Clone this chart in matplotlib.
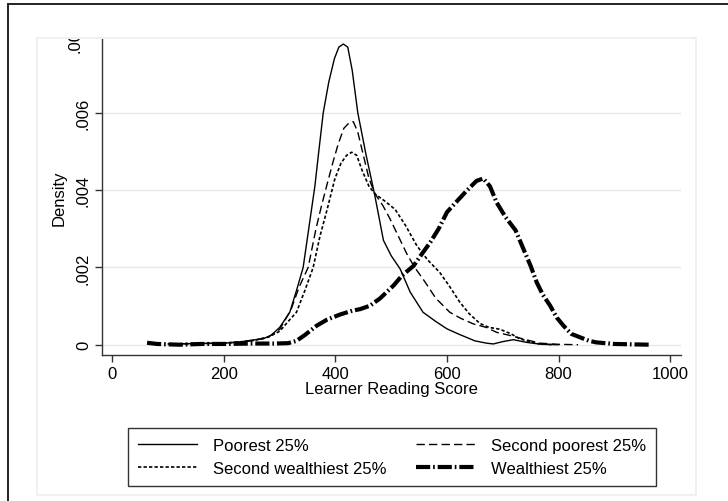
import matplotlib
matplotlib.use("Agg")
import matplotlib.pyplot as plt
from matplotlib.patches import Rectangle
from matplotlib.transforms import Bbox

# scores / densities (kernel density curves)
poor_x = [100, 150, 200, 230, 250, 270, 285, 300, 318, 330, 342, 352, 363, 370, 378, 388, 398, 406,
          414, 422, 430, 440, 455, 470, 486, 500, 516, 534, 557, 580, 600, 620, 635, 650, 671, 683,
          700, 719, 743, 770, 800]
poor_y = [0.00002, 0.00003, 0.00004, 0.00007, 0.00012, 0.00015, 0.00025, 0.00045, 0.00084, 0.0014,
          0.0020, 0.0030, 0.0041, 0.0050, 0.0060, 0.0068, 0.0074, 0.0077, 0.00778, 0.0077, 0.0071,
          0.0060, 0.0049, 0.0039, 0.0027, 0.0023, 0.00196, 0.00136, 0.00084, 0.0006, 0.00041,
          0.00028, 0.00019, 0.0001, 0.00004, 0.00002, 0.00008, 0.00013, 0.00006, 0.00001, 0.0]

second_poor_x = [100, 200, 250, 280, 300, 320, 335, 351, 365, 375, 384, 395, 405, 415, 425, 432, 440,
                 450, 460, 471, 485, 498, 513, 528, 542, 557, 580, 605, 625, 647, 670, 689, 710, 731,
                 750, 767, 800, 835]
second_poor_y = [0.00002, 0.00004, 0.0001, 0.0002, 0.0004, 0.0009, 0.0015, 0.0020, 0.0030, 0.0036,
                 0.0041, 0.0047, 0.0052, 0.0056, 0.00575, 0.00577, 0.0055, 0.0049, 0.0043, 0.0039,
                 0.0036, 0.00325, 0.0028, 0.00235, 0.0020, 0.0017, 0.0012, 0.00084, 0.00068,
                 0.00054, 0.00045, 0.00032, 0.00025, 0.00017, 0.0001, 0.00004, 0.00001, 0.0]

second_rich_x = [100, 200, 250, 280, 300, 315, 330, 345, 360, 372, 385, 399, 410, 420, 429, 438, 448,
                 460, 471, 490, 507, 525, 546, 565, 587, 605, 623, 640, 659, 675, 695, 715, 731, 760,
                 790]
second_rich_y = [0.00002, 0.00004, 0.0001, 0.0002, 0.00035, 0.0006, 0.00084, 0.0014, 0.0020, 0.0028,
                 0.0035, 0.0043, 0.0047, 0.0049, 0.00498, 0.0049, 0.0045, 0.0041, 0.0039, 0.0037,
                 0.0035, 0.0031, 0.00256, 0.0022, 0.00187, 0.0015, 0.0011, 0.0008, 0.00055, 0.00045,
                 0.0004, 0.00028, 0.00015, 0.00003, 0.0]

rich_x = [62, 80, 120, 160, 200, 250, 290, 315, 330, 345, 366, 385, 408, 430, 444, 462, 480, 504, 520,
          540, 555, 570, 585, 600, 617, 635, 653, 665, 677, 689, 705, 723, 737, 750, 761, 772, 785,
          797, 809, 823, 839, 855, 868, 900, 930, 965]
rich_y = [0.00005, 0.00002, 0.0, 0.00002, 0.00002, 0.00003, 0.00003, 0.00004, 0.0001, 0.00025,
          0.00049, 0.00065, 0.00078, 0.00088, 0.00092, 0.00101, 0.0012, 0.00153, 0.0018, 0.00204,
          0.00235, 0.00265, 0.0030, 0.00343, 0.0037, 0.00398, 0.00424, 0.0043, 0.0041, 0.00368,
          0.0033, 0.00296, 0.00248, 0.00204, 0.00161, 0.00129, 0.00101, 0.0007, 0.00049, 0.00028,
          0.00019, 0.0001, 0.00006, 0.00002, 0.00001, 0.0]

series_labels = ["Poorest 25%", "Second poorest 25%", "Second wealthiest 25%", "Wealthiest 25%"]
x_ticks = [0, 200, 400, 600, 800, 1000]
y_ticks = [0, 0.002, 0.004, 0.006]
y_tick_labels = ["0", ".002", ".004", ".006"]

plt.rcParams['font.family'] = ['Liberation Sans', 'DejaVu Sans']
FS = 12

W, H = 728, 502
fig = plt.figure(figsize=(W / 100, H / 100), dpi=100)

# outer frame and the faint graph region (Stata style)
fig.add_artist(Rectangle((8 / W, -0.2), 2.0, (H - 5) / H + 0.2, transform=fig.transFigure,
                         fill=False, ec='#222222', lw=1.4))
fig.add_artist(Rectangle((37 / W, (H - 496) / H), (696 - 37) / W, (496 - 39) / H,
                         transform=fig.transFigure, fill=False, ec='#eeeeee', lw=1.2))

ax = fig.add_axes([102 / W, (H - 356) / H, (681 - 102) / W, (356 - 40) / H])

lines = []
lines += ax.plot(poor_x, poor_y, color='black', lw=1.0, ls='-')
lines += ax.plot(second_poor_x, second_poor_y, color='black', lw=1.0, ls=(0, (6, 3)))
lines += ax.plot(second_rich_x, second_rich_y, color='black', lw=1.2, ls=(0, (2, 1.3)))
lines += ax.plot(rich_x, rich_y, color='black', lw=3.0, ls=(0, (3.4, 0.7, 0.4, 0.7)),
                 dash_capstyle='butt')

ax.set_xlim(-18.8, 1019.7)
ax.set_ylim(-0.000266, 0.00791)
ax.set_xticks(x_ticks)
ax.set_xticklabels([str(t) for t in x_ticks], fontsize=FS)
ax.set_yticks(y_ticks)
ax.set_yticklabels(y_tick_labels, fontsize=FS, rotation=90, va='center')
ax.tick_params(direction='out', length=5, width=1, color='#333333', pad=3)
ax.grid(axis='y', color='#e8e8e8', lw=1)
ax.set_axisbelow(True)
for s in ['top', 'right']:
    ax.spines[s].set_visible(False)
for s in ['left', 'bottom']:
    ax.spines[s].set_color('#333333')
    ax.spines[s].set_linewidth(1)

# the top tick label .008 is cut off by the plot region in the original
top_lbl = ax.text(-0.033, 0.008, ".008", transform=ax.get_yaxis_transform(), rotation=90,
                  ha='right', va='center', fontsize=FS)
top_lbl.set_clip_box(Bbox.from_extents(0, 0, W, H - 40))
top_lbl.set_clip_on(True)

ax.set_xlabel("Learner Reading Score", fontsize=FS, labelpad=0)
ax.set_ylabel("Density", fontsize=FS, labelpad=7)

# legend is filled row by row in the original
order = [0, 2, 1, 3]
leg = fig.legend([lines[i] for i in order], [series_labels[i] for i in order], loc='center',
                 bbox_to_anchor=(392 / W, (H - 458) / H), ncol=2, fontsize=FS, frameon=True,
                 fancybox=False, handlelength=3.55, handletextpad=0.95, columnspacing=1.75,
                 labelspacing=0.5, borderpad=0.6, borderaxespad=0)
leg.get_frame().set_edgecolor('black')
leg.get_frame().set_linewidth(1.0)

fig.savefig("out.png", dpi=100)
